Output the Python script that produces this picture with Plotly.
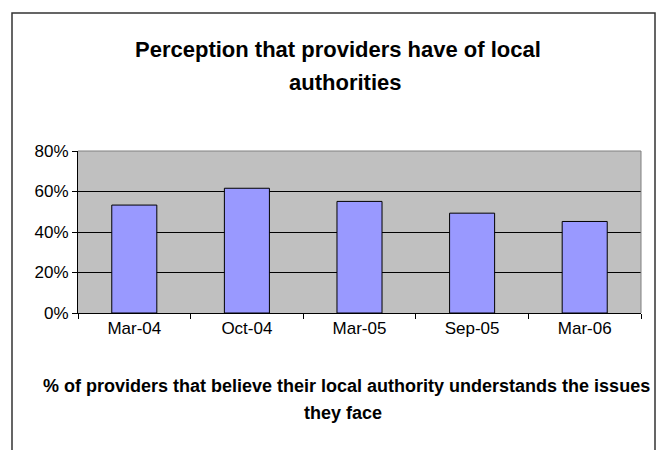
import plotly.graph_objects as go

categories = ["Mar-04", "Oct-04", "Mar-05", "Sep-05", "Mar-06"]
values = [0.533, 0.616, 0.551, 0.493, 0.452]
title_lines = ["Perception that providers have of local", "authorities"]
xtitle_lines = ["% of providers that believe their local authority understands the issues", "they face"]

W, H = 667, 450
L, R, T, B = 78, 641, 151, 313
FONT = "Liberation Sans"

def px(x):
    return (x - L) / (R - L)

def py(y):
    return (B - y) / (B - T)

fig = go.Figure(go.Bar(
    x=categories, y=values,
    marker=dict(color="#9999FF", line=dict(color="black", width=1)),
))

annotations = [
    dict(text="<b>%s</b>" % title_lines[0], x=px(338), y=py(49), font=dict(size=22)),
    dict(text="<b>%s</b>" % title_lines[1], x=px(345), y=py(82), font=dict(size=22)),
    dict(text="<b>%s</b>" % xtitle_lines[0], x=px(346), y=py(386), font=dict(size=18)),
    dict(text="<b>%s</b>" % xtitle_lines[1], x=px(343), y=py(413), font=dict(size=18)),
]
for a in annotations:
    a.update(xref="paper", yref="paper", showarrow=False, xanchor="center", yanchor="middle")
    a["font"].update(family=FONT, color="black")

shapes = [
    # outer chart border (left, top, right)
    dict(type="path", xref="paper", yref="paper",
         path="M %f %f L %f %f L %f %f L %f %f" % (px(12), py(460), px(12), py(13), px(655), py(13), px(655), py(460)),
         line=dict(color="#333333", width=1.5)),
    # gray plot area frame top and right
    dict(type="path", xref="paper", yref="paper", layer="above",
         path="M 0 1 L 1 1 L 1 0",
         line=dict(color="#808080", width=1)),
]

fig.update_layout(
    width=W, height=H,
    margin=dict(l=L, r=W - R, t=T, b=H - B, pad=0),
    paper_bgcolor="white",
    plot_bgcolor="#C0C0C0",
    bargap=0.6,
    showlegend=False,
    font=dict(family=FONT, size=17, color="black"),
    annotations=annotations,
    shapes=shapes,
    xaxis=dict(
        type="category",
        showline=True, linecolor="black", linewidth=1,
        ticks="outside", ticklen=5, tickcolor="black", tickson="boundaries",
        showgrid=False,
        tickfont=dict(family=FONT, size=17, color="black"),
        fixedrange=True,
    ),
    yaxis=dict(
        range=[0, 0.8], dtick=0.2, tickformat=".0%",
        showline=True, linecolor="black", linewidth=1,
        ticks="outside", ticklen=5, tickcolor="black",
        showgrid=True, gridcolor="black", gridwidth=1,
        zeroline=False,
        tickfont=dict(family=FONT, size=17, color="black"),
        fixedrange=True,
    ),
)

fig.write_html("out.html", config={"displayModeBar": False},
               post_script="document.body.style.margin='0';document.body.style.overflow='hidden';")
